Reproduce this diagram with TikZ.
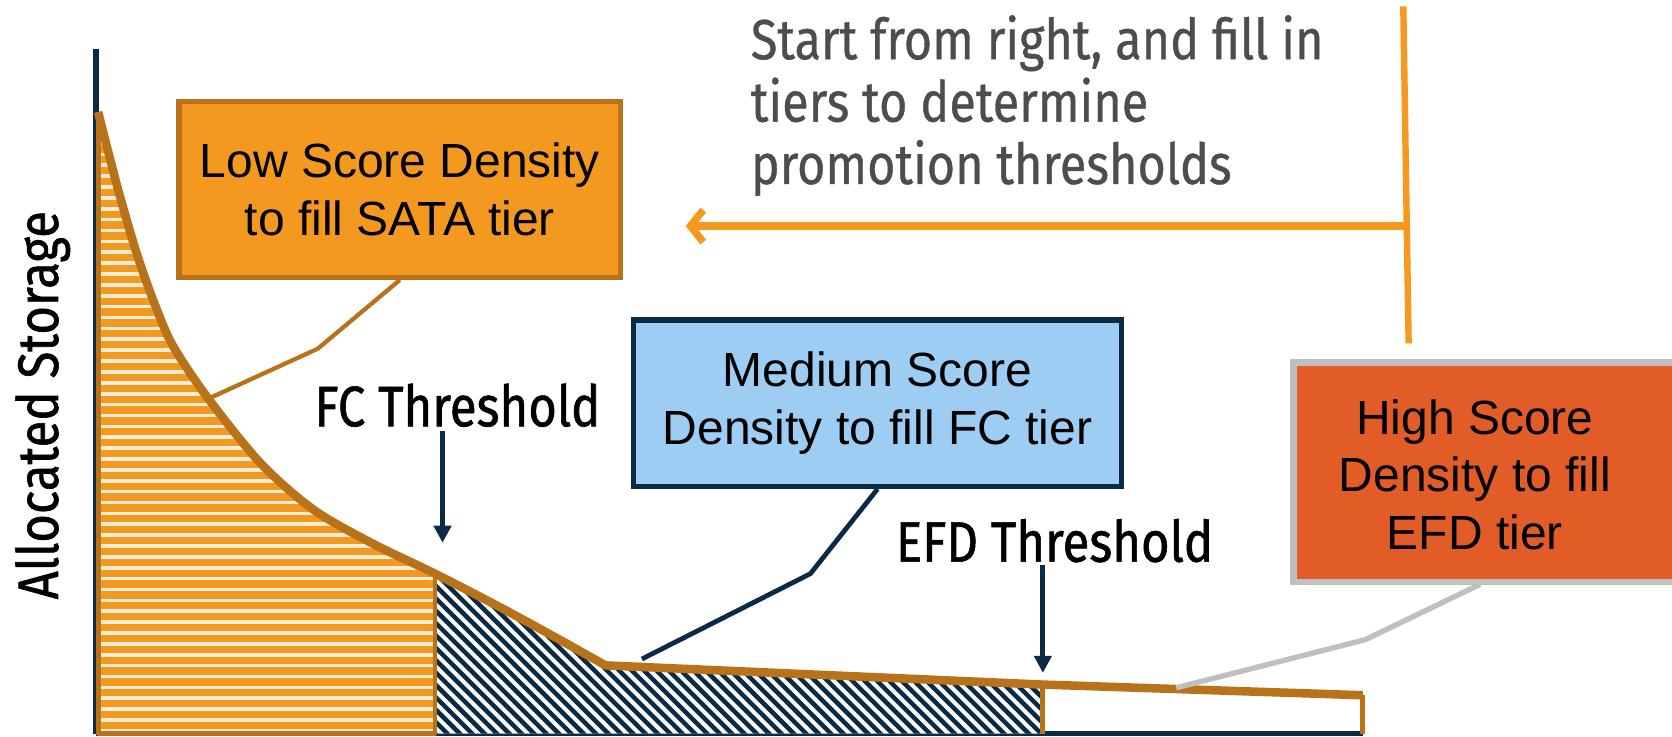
\documentclass[tikz,border=0pt]{standalone}
\usepackage{fontspec}
\setmainfont{Liberation Sans}
\newfontfamily\labfont[FakeStretch=0.86,FakeBold=1]{Fira Sans}
\newfontfamily\notefont[FakeStretch=0.86,FakeBold=0.6]{Fira Sans}
\usetikzlibrary{arrows.meta}
\definecolor{brn}{HTML}{B8731A}
\definecolor{org}{HTML}{F4991F}
\definecolor{navy}{HTML}{0B2A45}
\definecolor{lblue}{HTML}{9DCDF2}
\definecolor{redo}{HTML}{E25C28}
\definecolor{gry}{HTML}{BFBFBF}
\definecolor{txtgray}{HTML}{4D4D4D}
\definecolor{arrorg}{HTML}{F7981F}
\tikzset{
  curvepath/.style={insert path={-- plot[smooth] coordinates {(92,105) (110,175) (128,237) (145,285) (162,324) (194,372) (244,434) (294,478) (350,510) (408,538) (470,570) (525,600) (550,614) (568,624)}}},
  boxtext/.style={font=\fontsize{45}{54}\selectfont, align=center, inner sep=0pt},
  lowbox/.style={draw=brn, line width=5pt, fill=org, minimum width=414pt, minimum height=165pt},
  medbox/.style={draw=navy, line width=5pt, fill=lblue, minimum width=458pt, minimum height=156pt},
  highbox/.style={draw=gry, line width=6pt, fill=redo, minimum width=362pt, minimum height=206pt},
  thrlabel/.style={font=\labfont\fontsize{53.5}{60}\selectfont, inner sep=0pt},
  thrarrow/.style={draw=navy, line width=4.5pt, -{Triangle[length=16pt,width=16pt]}},
  outline/.style={draw=brn, line width=4.5pt},
}
\begin{document}
\begin{tikzpicture}[x=1pt,y=-1pt]
\useasboundingbox (0,0) rectangle (1568,691);
\fill[white] (0,0) rectangle (1568,691);

% axes
\draw[navy, line width=5pt] (90,46) -- (90,688);
\draw[navy, line width=5pt] (90,688) -- (1278,688);

% SATA region: orange stripes
\begin{scope}
  \clip (0,0) rectangle (408,688);
  \clip (92,688) -- (92,105) [curvepath] -- (978,642) -- (1278,652) -- (1278,688) -- cycle;
  \fill[org] (80,90) rectangle (420,700);
  \foreach \y in {104,114.2,...,690} {\draw[white!40!org!30!white, line width=3.4pt] (80,\y) -- (420,\y);}
\end{scope}

% FC region: navy hatch
\begin{scope}
  \clip (408,0) rectangle (978,688);
  \clip (92,688) -- (92,105) [curvepath] -- (978,642) -- (1278,652) -- (1278,688) -- cycle;
  \fill[white] (400,500) rectangle (990,700);
  \foreach \x in {240,251.6,...,1000} {\draw[navy, line width=4.2pt] (\x,520) -- ++(180,180);}
\end{scope}

% outlines
\draw[outline, line join=round] (92,105) -- (92,688) -- (408,688) -- (408,538);
\draw[outline] (978,642) -- (978,688);
\draw[outline] (1278,652) -- (1278,688);
\draw[brn, line width=8pt, line join=round] (92,105) [curvepath] -- (978,642) -- (1278,652);

% boxes
\node[lowbox] (low) at (375,177.5) {};
\node[boxtext] (lowt) at (low.center) {Low Score Density\\to fill SATA tier};
\node[medbox] (med) at (823,378) {};
\node[boxtext] (medt) at (med.center) {Medium Score\\Density to fill FC tier};
\node[highbox] (high) at (1394,443) {};
\node[boxtext] (hight) at (1383,445) {High Score\\Density to fill\\EFD tier};

% callouts
\coordinate (lc1) at (298,327);
\coordinate (lc2) at (193,375);
\draw[brn, line width=4pt] (low.south) -- (lc1) -- (lc2);
\coordinate (mc1) at (760,538);
\coordinate (mc2) at (602,618);
\draw[navy, line width=4.5pt] (med.south) -- (mc1) -- (mc2);
\coordinate (hc0) at (1388,548);
\coordinate (hc1) at (1280,600);
\coordinate (hc2) at (1103,645);
\draw[gry, line width=5pt] (hc0) -- (hc1) -- (hc2);

% threshold labels
\node[thrlabel] (fcl) at (429,380) {FC Threshold};
\coordinate (fca) at (415,404);
\coordinate (fcb) at (415,509);
\draw[thrarrow] (fca) -- (fcb);
\node[thrlabel] (efdl) at (989,507) {EFD Threshold};
\coordinate (efa) at (978,530);
\coordinate (efb) at (978,631);
\draw[thrarrow] (efa) -- (efb);

% y axis label
\node[thrlabel, rotate=90] (ylab) at (40,380) {Allocated Storage};

% direction arrow
\coordinate (vtop) at (1316,6);
\coordinate (vbot) at (1321,322);
\draw[arrorg, line width=6pt] (vtop) -- (vbot);
\coordinate (junc) at (1318,212);
\coordinate (tip) at (643,212);
\draw[arrorg, line width=7pt, -{Straight Barb[length=12pt,width=30pt]}] (junc) -- (tip);
\node[anchor=north west, inner sep=0pt, align=left, text=txtgray, font=\notefont\fontsize{53}{58.5}\selectfont] (note) at (704,14) {Start from right, and fill in\\tiers to determine\\promotion thresholds};
\end{tikzpicture}
\end{document}
